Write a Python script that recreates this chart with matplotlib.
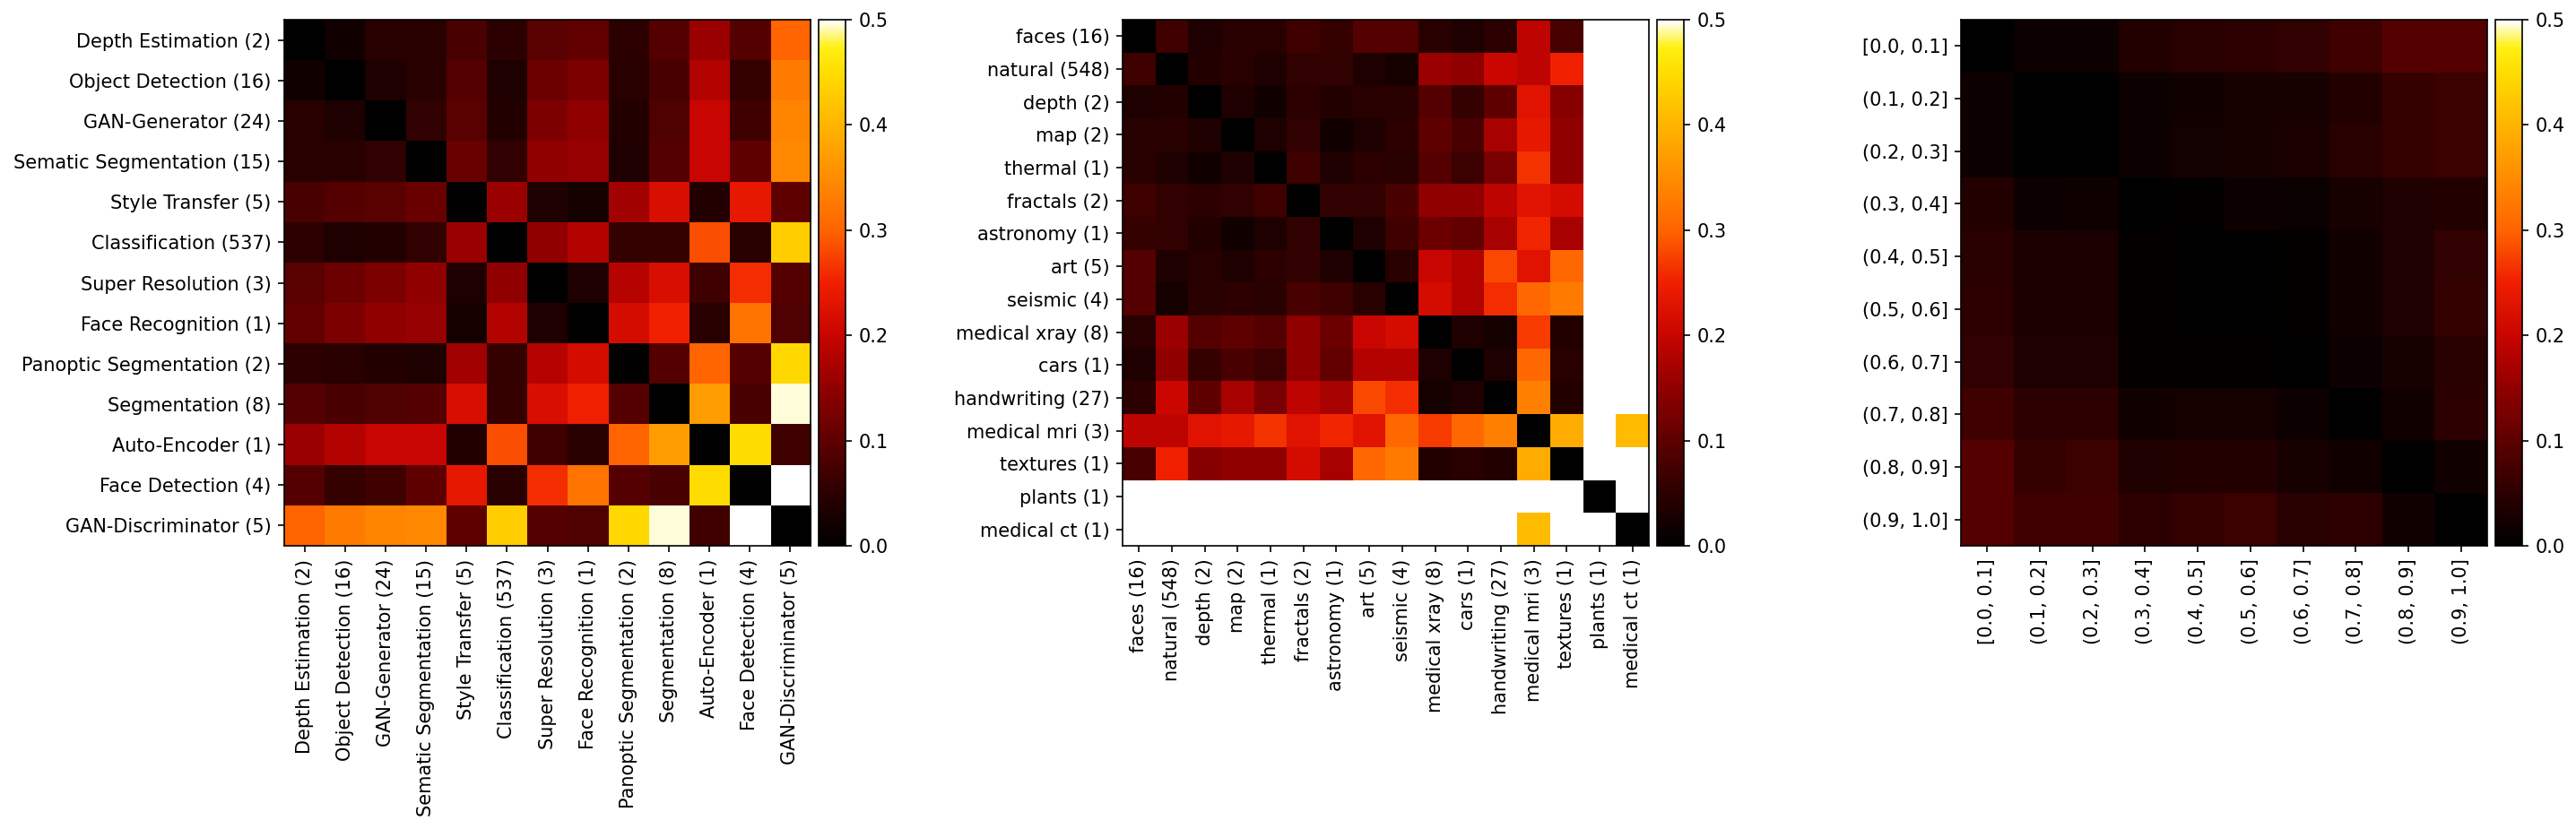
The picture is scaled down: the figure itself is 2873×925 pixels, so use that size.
import matplotlib
matplotlib.use("Agg")
import matplotlib.pyplot as plt
from matplotlib.colors import LinearSegmentedColormap
import numpy as np

n = np.nan

task_labels = ['Depth Estimation (2)', 'Object Detection (16)', 'GAN-Generator (24)', 'Sematic Segmentation (15)',
               'Style Transfer (5)', 'Classification (537)', 'Super Resolution (3)', 'Face Recognition (1)',
               'Panoptic Segmentation (2)', 'Segmentation (8)', 'Auto-Encoder (1)', 'Face Detection (4)',
               'GAN-Discriminator (5)']
task_values = [
    [0, .02, .045, .045, .08, .05, .095, .105, .05, .09, .16, .09, .30],
    [.02, 0, .035, .045, .09, .035, .115, .13, .045, .08, .18, .06, .33],
    [.045, .035, 0, .055, .095, .04, .13, .15, .04, .085, .20, .07, .34],
    [.045, .045, .055, 0, .11, .055, .15, .155, .035, .09, .20, .10, .345],
    [.08, .09, .095, .11, 0, .16, .035, .025, .165, .22, .04, .24, .10],
    [.05, .035, .04, .055, .16, 0, .15, .18, .06, .06, .285, .045, .43],
    [.095, .115, .13, .15, .035, .15, 0, .035, .185, .22, .07, .26, .09],
    [.105, .13, .15, .155, .025, .18, .035, 0, .215, .25, .045, .32, .085],
    [.05, .045, .04, .035, .165, .06, .185, .215, 0, .09, .30, .09, .445],
    [.09, .08, .085, .09, .22, .06, .22, .25, .09, 0, .37, .08, .495],
    [.16, .18, .20, .20, .04, .285, .07, .045, .30, .37, 0, .45, .07],
    [.09, .06, .07, .10, .24, .045, .26, .32, .09, .08, .45, 0, .5],
    [.30, .33, .34, .345, .10, .43, .09, .085, .445, .495, .07, .5, 0],
]

domain_labels = ['faces (16)', 'natural (548)', 'depth (2)', 'map (2)', 'thermal (1)', 'fractals (2)',
                 'astronomy (1)', 'art (5)', 'seismic (4)', 'medical xray (8)', 'cars (1)',
                 'handwriting (27)', 'medical mri (3)', 'textures (1)', 'plants (1)', 'medical ct (1)']
domain_values = [
    [0, .07, .035, .045, .045, .07, .06, .09, .09, .045, .035, .05, .19, .08, n, n],
    [.07, 0, .04, .045, .035, .055, .055, .035, .025, .16, .15, .205, .19, .25, n, n],
    [.035, .04, 0, .035, .02, .05, .04, .045, .045, .09, .06, .10, .23, .14, n, n],
    [.045, .045, .035, 0, .035, .055, .02, .035, .05, .10, .08, .17, .24, .15, n, n],
    [.045, .035, .02, .035, 0, .07, .035, .05, .045, .09, .065, .125, .265, .15, n, n],
    [.07, .055, .05, .055, .07, 0, .055, .055, .08, .15, .15, .19, .23, .215, n, n],
    [.06, .055, .04, .02, .035, .055, 0, .035, .07, .115, .105, .17, .255, .17, n, n],
    [.09, .035, .045, .035, .05, .055, .035, 0, .045, .20, .18, .28, .23, .305, n, n],
    [.09, .025, .045, .05, .045, .08, .07, .045, 0, .215, .18, .26, .305, .33, n, n],
    [.045, .16, .09, .10, .09, .15, .115, .20, .215, 0, .035, .025, .27, .04, n, n],
    [.035, .15, .06, .08, .065, .15, .105, .18, .18, .035, 0, .035, .305, .045, n, n],
    [.05, .205, .10, .17, .125, .19, .17, .28, .26, .025, .035, 0, .335, .04, n, n],
    [.19, .19, .23, .24, .265, .23, .255, .23, .305, .27, .305, .335, 0, .39, n, .41],
    [.08, .25, .14, .15, .15, .215, .17, .305, .33, .04, .045, .04, .39, 0, n, n],
    [n, n, n, n, n, n, n, n, n, n, n, n, n, n, 0, n],
    [n, n, n, n, n, n, n, n, n, n, n, n, .41, n, n, 0],
]

bin_labels = ['[0.0, 0.1]', '(0.1, 0.2]', '(0.2, 0.3]', '(0.3, 0.4]', '(0.4, 0.5]',
              '(0.5, 0.6]', '(0.6, 0.7]', '(0.7, 0.8]', '(0.8, 0.9]', '(0.9, 1.0]']
bin_values = [
    [0, .015, .015, .04, .045, .05, .055, .07, .09, .09],
    [.015, 0, 0, .015, .02, .027, .027, .04, .06, .065],
    [.015, 0, 0, .015, .023, .027, .03, .045, .06, .065],
    [.04, .015, .018, 0, .005, .015, .012, .027, .035, .04],
    [.045, .03, .03, .006, 0, 0, .005, .02, .035, .055],
    [.05, .03, .03, .007, 0, 0, .005, .02, .035, .06],
    [.055, .035, .035, .007, .007, .007, 0, .015, .027, .045],
    [.07, .05, .05, .02, .025, .025, .015, 0, .02, .05],
    [.09, .06, .065, .035, .04, .04, .027, .02, 0, .02],
    [.09, .07, .07, .05, .06, .065, .045, .05, .02, 0],
]

# colours read off the reference colorbar, not quite the stock 'hot'
cmap_stops = [0, .1, .2, .3, .4, .5, .6, .7, .8, .9, .95, 1]
cmap_colors = ['#000000', '#2d0000', '#5f0000', '#910000', '#c80500', '#f01e00',
               '#ff6400', '#ff8c00', '#ffb400', '#ffdc00', '#fff014', '#ffffff']
heat = LinearSegmentedColormap.from_list('heat', list(zip(cmap_stops, cmap_colors)))

W, H = 2873, 925
DPI = 150
fig = plt.figure(figsize=(W / DPI, H / DPI), dpi=DPI)


def panel(left, cbar_left, values, labels):
    # positions are in pixels of the output image
    ax = fig.add_axes([left / W, 1 - 609 / H, 587 / W, 587 / H])
    im = ax.imshow(np.array(values, dtype=float), cmap=heat, vmin=0, vmax=0.5, aspect='auto')
    ax.set_xticks(range(len(labels)))
    ax.set_xticklabels(labels, rotation=90)
    ax.set_yticks(range(len(labels)))
    ax.set_yticklabels(labels)
    cax = fig.add_axes([cbar_left / W, 1 - 609 / H, 30 / W, 587 / H])
    fig.colorbar(im, cax=cax)


panel(317, 913, task_values, task_labels)
panel(1252, 1848, domain_values, domain_labels)
panel(2187, 2783, bin_values, bin_labels)

fig.savefig('out.png', dpi=DPI)
